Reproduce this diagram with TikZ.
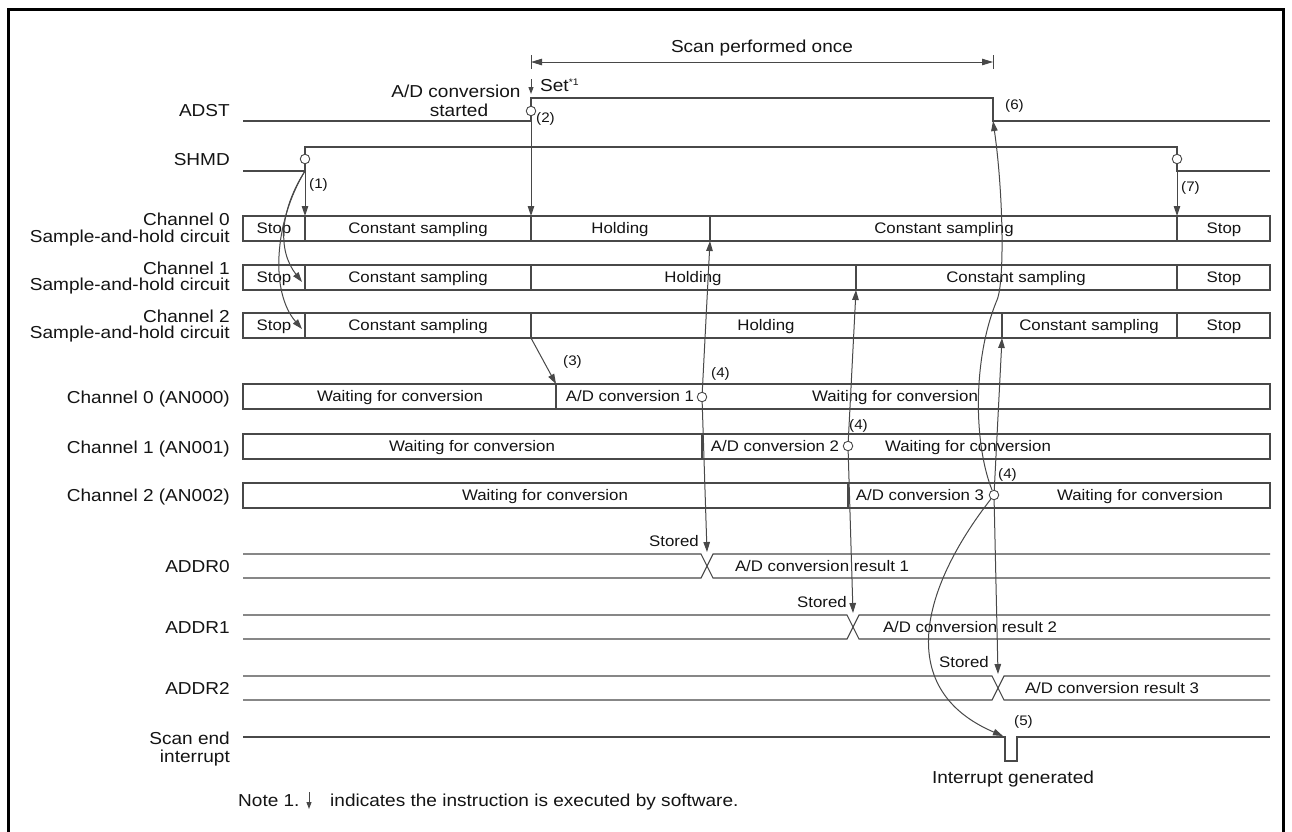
\documentclass[tikz,border=0pt]{standalone}
\usepackage{fontspec}
\setmainfont{Liberation Sans}[FakeStretch=1.1]
\usetikzlibrary{arrows.meta}
\definecolor{lc}{RGB}{72,72,72}
\definecolor{tc}{RGB}{20,20,20}
\newcommand\lblfont{\fontsize{17.3}{17}\selectfont}
\newcommand\boxfont{\fontsize{15.3}{17}\selectfont}
\newcommand\numfont{\fontsize{13.8}{15}\selectfont}
\begin{document}
\begin{tikzpicture}[x=1pt,y=-1pt,
  sig/.style={draw=lc, line width=1.1pt},
  boxline/.style={draw=lc, line width=1.1pt},
  arr/.style={draw=lc, line width=1pt, -{Triangle[length=10pt,width=6.5pt]}},
  sarr/.style={draw=lc, line width=1pt, -{Triangle[length=7pt,width=5pt]}},
  dimarr/.style={draw=lc, line width=1pt, {Triangle[length=11pt,width=6.5pt]}-{Triangle[length=11pt,width=6.5pt]}},
  mk/.style={circle, draw=lc, fill=white, inner sep=0pt, minimum size=9.5pt, line width=0.9pt},
  lbl/.style={font=\lblfont, text=tc, inner sep=0pt, text height=12.4pt, text depth=0pt, anchor=east},
  big/.style={font=\lblfont, text=tc, inner sep=0pt, text height=12.4pt, text depth=0pt},
  bt/.style={font=\boxfont, text=tc, inner sep=0pt, text height=11pt, text depth=0pt},
  num/.style={font=\numfont, text=tc, inner sep=0pt, text height=9.9pt, text depth=0pt, anchor=west}]
\useasboundingbox (0,0) rectangle (1292,831);
\fill[white] (0,0) rectangle (1292,831);
\draw[line width=3pt, black] (8,845) -- (8,9) -- (1283,9) -- (1283,845);

% ---------- dimension ----------
\coordinate (dL) at (531,62);
\coordinate (dR) at (993,62);
\draw[lc, line width=1pt] (531,55) -- (531,69) (993,55) -- (993,69);
\draw[dimarr] (dL) -- (dR);
\node[big] (scan) at (762,46) {Scan performed once};

% ---------- ADST ----------
\node[lbl] (lADST) at (230,110) {ADST};
\coordinate (adstR) at (531,121);
\coordinate (adstF) at (993,121);
\draw[sig] (243,121) -- (adstR) -- (531,98) -- (993,98) -- (adstF) -- (1270,121);
\node[mk] (cadst) at (531,111) {};
\node[num] (n2) at (536,118) {(2)};
\coordinate (setT) at (531,79);
\coordinate (setB) at (531,94);
\draw[sarr] (setT) -- (setB);
\node[big, anchor=west] (set) at (540,85) {Set\raisebox{5.5pt}{\fontsize{9.5}{9.5}\selectfont *1}};
\node[big] (ads1) at (456,91) {A/D conversion};
\node[big] (ads2) at (459,110) {started};

% ---------- SHMD ----------
\node[lbl] (lSHMD) at (230,159) {SHMD};
\coordinate (shR) at (305,171);
\coordinate (shF) at (1177,171);
\draw[sig] (243,171) -- (shR) -- (305,147) -- (1177,147) -- (shF) -- (1270,171);
\node[mk] (csh1) at (305,159) {};
\node[mk] (csh2) at (1177,159) {};
\node[num] (n1) at (309,184) {(1)};
\node[num] (n7) at (1181,187) {(7)};

% ---------- Sample-and-hold rows ----------
\node[lbl] (l0a) at (230,219) {Channel 0};
\node[lbl] (l0b) at (230,236) {Sample-and-hold circuit};
\node[lbl] (l1a) at (230,268) {Channel 1};
\node[lbl] (l1b) at (230,284) {Sample-and-hold circuit};
\node[lbl] (l2a) at (230,316) {Channel 2};
\node[lbl] (l2b) at (230,332) {Sample-and-hold circuit};

\draw[boxline] (243,216) rectangle (1270,241);
\foreach \x in {305,531,710,1177} \draw[boxline] (\x,216) -- (\x,241);
\draw[boxline] (243,265) rectangle (1270,290);
\foreach \x in {305,531,856,1177} \draw[boxline] (\x,265) -- (\x,290);
\draw[boxline] (243,313) rectangle (1270,338);
\foreach \x in {305,531,1002,1177} \draw[boxline] (\x,313) -- (\x,338);

\node[bt] (s00) at (274,228) {Stop};
\node[bt] (s01) at (418,228) {Constant sampling};
\node[bt] (s02) at (620,228) {Holding};
\node[bt] (s03) at (944,228) {Constant sampling};
\node[bt] (s04) at (1224,228) {Stop};
\node[bt] (s10) at (274,277) {Stop};
\node[bt] (s11) at (418,277) {Constant sampling};
\node[bt] (s12) at (693,277) {Holding};
\node[bt] (s13) at (1016,277) {Constant sampling};
\node[bt] (s14) at (1224,277) {Stop};
\node[bt] (s20) at (274,325) {Stop};
\node[bt] (s21) at (418,325) {Constant sampling};
\node[bt] (s22) at (766,325) {Holding};
\node[bt] (s23) at (1089,325) {Constant sampling};
\node[bt] (s24) at (1224,325) {Stop};

\coordinate (t0a) at (305,216);
\coordinate (t0b) at (531,216);
\coordinate (t0c) at (1177,216);
\coordinate (t1) at (302,282);
\coordinate (t2) at (302,329);
\draw[arr] (shR) -- (t0a);
\draw[arr] (adstR) -- (t0b);
\draw[arr] (shF) -- (t0c);
\draw[arr] (shR) .. controls (280,210) and (277,250) .. (t1);
\draw[arr] (shR) .. controls (274,222) and (270,292) .. (t2);

% ---------- conversion rows ----------
\node[lbl] (la0) at (230,397) {Channel 0 (AN000)};
\node[lbl] (la1) at (230,447) {Channel 1 (AN001)};
\node[lbl] (la2) at (230,495) {Channel 2 (AN002)};

\draw[boxline] (243,384) rectangle (1270,409);
\draw[boxline] (556,384) -- (556,409);
\draw[boxline] (243,434) rectangle (1270,459);
\draw[draw=lc, line width=1.9pt] (702,434) -- (702,459);
\draw[boxline] (243,483) rectangle (1270,508);
\draw[boxline] (848,483) -- (848,508);

\node[bt] (a00) at (400,396) {Waiting for conversion};
\node[bt] (a01) at (630,396) {A/D conversion 1};
\node[bt] (a02) at (895,396) {Waiting for conversion};
\node[bt] (a10) at (472,446) {Waiting for conversion};
\node[bt] (a11) at (775,446) {A/D conversion 2};
\node[bt] (a12) at (968,446) {Waiting for conversion};
\node[bt] (a20) at (545,495) {Waiting for conversion};
\node[bt] (a21) at (920,495) {A/D conversion 3};
\node[bt] (a22) at (1140,495) {Waiting for conversion};

\coordinate (c3a) at (531,338);
\coordinate (c3b) at (556,384);
\draw[arr] (c3a) -- (c3b);
\node[num] (n3) at (563,361) {(3)};

\node[mk] (c0) at (702,397) {};
\node[mk] (c1) at (848,446) {};
\node[mk] (c2) at (994,495) {};
\node[num] (n4a) at (711,373) {(4)};
\node[num] (n4b) at (849,425) {(4)};
\node[num] (n4c) at (998,474) {(4)};

% ---------- ADDR rows ----------
\node[lbl] (lr0) at (230,566) {ADDR0};
\node[lbl] (lr1) at (230,627) {ADDR1};
\node[lbl] (lr2) at (230,688) {ADDR2};

\draw[sig] (243,554) -- (701,554) -- (713,578) -- (1270,578);
\draw[sig] (243,578) -- (701,578) -- (713,554) -- (1270,554);
\draw[sig] (243,615) -- (847,615) -- (859,639) -- (1270,639);
\draw[sig] (243,639) -- (847,639) -- (859,615) -- (1270,615);
\draw[sig] (243,676) -- (992,676) -- (1004,700) -- (1270,700);
\draw[sig] (243,700) -- (992,700) -- (1004,676) -- (1270,676);

\node[bt] (r0) at (822,566) {A/D conversion result 1};
\node[bt] (r1) at (970,627) {A/D conversion result 2};
\node[bt] (r2) at (1112,688) {A/D conversion result 3};
\node[bt, anchor=east] (st0) at (699,541) {Stored};
\node[bt, anchor=east] (st1) at (847,602) {Stored};
\node[bt, anchor=east] (st2) at (989,662) {Stored};

% ---------- interrupt ----------
\node[lbl] (li1) at (230,738) {Scan end};
\node[lbl] (li2) at (230,756) {interrupt};
\draw[sig] (243,737) -- (1005,737) -- (1005,761) -- (1017,761) -- (1017,737) -- (1270,737);
\node[big] (intg) at (1013,777) {Interrupt generated};
\node[num] (n5) at (1014,721) {(5)};
\node[num] (n6) at (1005,105) {(6)};

% ---------- arrows from conversion ends ----------
\coordinate (u0) at (710,241);
\coordinate (d0) at (707,552);
\coordinate (u1) at (856,290);
\coordinate (d1) at (853,613);
\coordinate (u2) at (1002,338);
\coordinate (d2) at (998,674);
\coordinate (intT) at (1003,736);
\coordinate (mid6) at (997,300);
\draw[arr] (c0) -- (u0);
\draw[arr] (c0) -- (d0);
\draw[arr] (c1) -- (u1);
\draw[arr] (c1) -- (d1);
\draw[arr] (c2) -- (u2);
\draw[arr] (c2) -- (d2);
\draw[arr] (c2) .. controls (920,590) and (895,690) .. (intT);
\draw[arr] (c2) .. controls (974,445) and (972,360) .. (mid6) .. controls (1005,281) and (1003,190) .. (adstF);

% ---------- note ----------
\node[big, anchor=west] (note1) at (238,800) {Note 1.};
\coordinate (nT) at (309,792);
\coordinate (nB) at (309,809);
\draw[sarr] (nT) -- (nB);
\node[big, anchor=west] (note2) at (330,800) {indicates the instruction is executed by software.};
\end{tikzpicture}
\end{document}
